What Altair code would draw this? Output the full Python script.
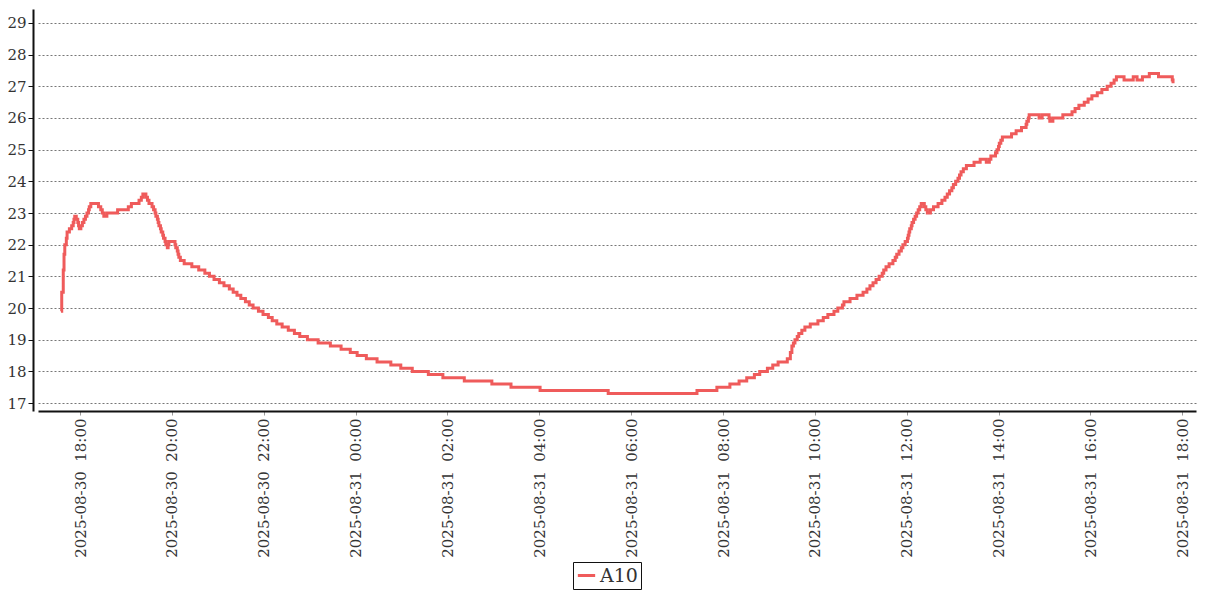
import altair as alt
import pandas as pd

# change points of the A10 reading (value holds until next time)
day30 = [
    ("17:35", 19.9), ("17:36", 20.5), ("17:38", 21.2), ("17:39", 21.7), ("17:40", 22.0),
    ("17:42", 22.2), ("17:43", 22.4), ("17:46", 22.5), ("17:49", 22.6), ("17:51", 22.7),
    ("17:52", 22.8), ("17:53", 22.9), ("17:55", 22.8), ("17:57", 22.7), ("17:58", 22.6),
    ("17:59", 22.5), ("18:01", 22.6), ("18:03", 22.7), ("18:05", 22.8), ("18:07", 22.9),
    ("18:09", 23.0), ("18:11", 23.1), ("18:12", 23.2), ("18:14", 23.3), ("18:24", 23.2),
    ("18:27", 23.1), ("18:29", 23.0), ("18:31", 22.9), ("18:35", 23.0), ("18:49", 23.1),
    ("19:03", 23.2), ("19:07", 23.3), ("19:17", 23.4), ("19:20", 23.5), ("19:22", 23.6),
    ("19:26", 23.5), ("19:28", 23.4), ("19:30", 23.3), ("19:34", 23.2), ("19:36", 23.1),
    ("19:38", 23.0), ("19:39", 22.9), ("19:41", 22.8), ("19:42", 22.7), ("19:43", 22.6),
    ("19:45", 22.5), ("19:46", 22.4), ("19:48", 22.3), ("19:49", 22.2), ("19:51", 22.1),
    ("19:52", 22.0), ("19:54", 21.9), ("19:55", 22.0), ("19:56", 22.1), ("20:04", 22.0),
    ("20:05", 21.9), ("20:07", 21.8), ("20:08", 21.7), ("20:09", 21.6), ("20:11", 21.5),
    ("20:16", 21.4), ("20:26", 21.3), ("20:35", 21.2), ("20:43", 21.1), ("20:49", 21.0),
    ("20:55", 20.9), ("21:02", 20.8), ("21:08", 20.7), ("21:15", 20.6), ("21:20", 20.5),
    ("21:25", 20.4), ("21:30", 20.3), ("21:36", 20.2), ("21:41", 20.1), ("21:46", 20.0),
    ("21:53", 19.9), ("21:59", 19.8), ("22:06", 19.7), ("22:11", 19.6), ("22:17", 19.5),
    ("22:24", 19.4), ("22:32", 19.3), ("22:40", 19.2), ("22:47", 19.1), ("22:57", 19.0),
    ("23:11", 18.9), ("23:27", 18.8), ("23:41", 18.7), ("23:53", 18.6),
]
day31 = [
    ("00:02", 18.5), ("00:14", 18.4), ("00:28", 18.3), ("00:46", 18.2), ("00:59", 18.1),
    ("01:14", 18.0), ("01:35", 17.9), ("01:54", 17.8), ("02:22", 17.7), ("02:58", 17.6),
    ("03:23", 17.5), ("04:01", 17.4), ("05:30", 17.3), ("07:26", 17.4), ("07:52", 17.5),
    ("08:09", 17.6), ("08:21", 17.7), ("08:31", 17.8), ("08:41", 17.9), ("08:48", 18.0),
    ("08:58", 18.1), ("09:05", 18.2), ("09:12", 18.3), ("09:24", 18.4), ("09:28", 18.6),
    ("09:30", 18.8), ("09:32", 18.9), ("09:34", 19.0), ("09:37", 19.1), ("09:39", 19.2),
    ("09:43", 19.3), ("09:47", 19.4), ("09:54", 19.5), ("10:04", 19.6), ("10:11", 19.7),
    ("10:17", 19.8), ("10:25", 19.9), ("10:30", 20.0), ("10:36", 20.1), ("10:38", 20.2),
    ("10:46", 20.3), ("10:55", 20.4), ("11:03", 20.5), ("11:08", 20.6), ("11:12", 20.7),
    ("11:16", 20.8), ("11:20", 20.9), ("11:24", 21.0), ("11:28", 21.1), ("11:30", 21.2),
    ("11:33", 21.3), ("11:37", 21.4), ("11:42", 21.5), ("11:45", 21.6), ("11:47", 21.7),
    ("11:50", 21.8), ("11:53", 21.9), ("11:55", 22.0), ("11:58", 22.1), ("12:01", 22.2),
    ("12:02", 22.3), ("12:03", 22.4), ("12:04", 22.5), ("12:06", 22.6), ("12:07", 22.7),
    ("12:09", 22.8), ("12:11", 22.9), ("12:13", 23.0), ("12:15", 23.1), ("12:17", 23.2),
    ("12:19", 23.3), ("12:23", 23.2), ("12:25", 23.1), ("12:27", 23.0), ("12:31", 23.1),
    ("12:35", 23.2), ("12:41", 23.3), ("12:46", 23.4), ("12:50", 23.5), ("12:53", 23.6),
    ("12:56", 23.7), ("12:59", 23.8), ("13:01", 23.9), ("13:04", 24.0), ("13:07", 24.1),
    ("13:09", 24.2), ("13:11", 24.3), ("13:14", 24.4), ("13:18", 24.5), ("13:28", 24.6),
    ("13:36", 24.7), ("13:44", 24.6), ("13:48", 24.7), ("13:50", 24.8), ("13:56", 24.9),
    ("13:58", 25.0), ("14:00", 25.1), ("14:01", 25.2), ("14:03", 25.3), ("14:05", 25.4),
    ("14:17", 25.5), ("14:23", 25.6), ("14:30", 25.7), ("14:36", 25.8), ("14:37", 25.9),
    ("14:39", 26.0), ("14:40", 26.1), ("14:53", 26.0), ("14:57", 26.1), ("15:06", 26.0),
    ("15:07", 25.9), ("15:11", 26.0), ("15:24", 26.1), ("15:36", 26.2), ("15:40", 26.3),
    ("15:45", 26.4), ("15:52", 26.5), ("15:57", 26.6), ("16:02", 26.7), ("16:09", 26.8),
    ("16:15", 26.9), ("16:22", 27.0), ("16:27", 27.1), ("16:31", 27.2), ("16:34", 27.3),
    ("16:44", 27.2), ("16:56", 27.3), ("17:01", 27.2), ("17:08", 27.3), ("17:17", 27.4),
    ("17:29", 27.3), ("17:47", 27.2), ("17:48", 27.1),
]

times = ["2025-08-30T" + t for t, _ in day30] + ["2025-08-31T" + t for t, _ in day31]
values = [v for _, v in day30] + [v for _, v in day31]
series_name = "A10"

# x ticks every two hours
tick_points = [(30, 18), (30, 20), (30, 22), (31, 0), (31, 2), (31, 4), (31, 6),
               (31, 8), (31, 10), (31, 12), (31, 14), (31, 16), (31, 18)]
y_ticks = list(range(17, 30))

df = pd.DataFrame({"time": times, "value": values, "series": series_name})

tick_values = [alt.DateTime(year=2025, month=8, date=d, hours=h, minutes=0) for d, h in tick_points]
x_domain = [alt.DateTime(year=2025, month=8, date=30, hours=17, minutes=5),
            alt.DateTime(year=2025, month=8, date=31, hours=18, minutes=18)]

FONT = "DejaVu Serif"

chart = alt.Chart(df).mark_line(interpolate="step-after", strokeWidth=3).encode(
    x=alt.X("time:T",
            scale=alt.Scale(domain=x_domain),
            axis=alt.Axis(values=tick_values, format="%Y-%m-%d\u00a0\u00a0%H:%M", labelAngle=-90,
                          grid=False, domainColor="#111", domainWidth=2,
                          tickColor="#999", tickSize=4, labelPadding=3,
                          labelFont=FONT, labelFontSize=15, labelColor="#333",
                          labelOverlap=False, labelFlush=False),
            title=None),
    y=alt.Y("value:Q",
            scale=alt.Scale(domain=[16.75, 29.44], nice=False, zero=False),
            axis=alt.Axis(values=y_ticks, offset=5, grid=True, gridDash=[2, 2],
                          gridColor="#777", gridWidth=1, domainColor="#111", domainWidth=2,
                          tickColor="#111", tickSize=5, labelPadding=2,
                          labelFont=FONT, labelFontSize=15, labelColor="#333"),
            title=None),
    color=alt.Color("series:N",
                    scale=alt.Scale(range=["#ef5b5b"]),
                    legend=alt.Legend(title=None, orient="none", legendX=535, legendY=553,
                                      strokeColor="#111", padding=3, fillColor="white",
                                      symbolType="stroke", symbolStrokeWidth=3, symbolSize=300,
                                      labelFont=FONT, labelFontSize=19, labelColor="#333",
                                      labelOffset=3)),
).properties(
    width=1158,
    height=402,
    autosize=alt.AutoSizeParams(type="none"),
    padding={"left": 30, "top": 1, "right": 3, "bottom": 181},
).configure_view(stroke=None)

chart.save("out.html", embed_options={"renderer": "svg", "actions": False})
